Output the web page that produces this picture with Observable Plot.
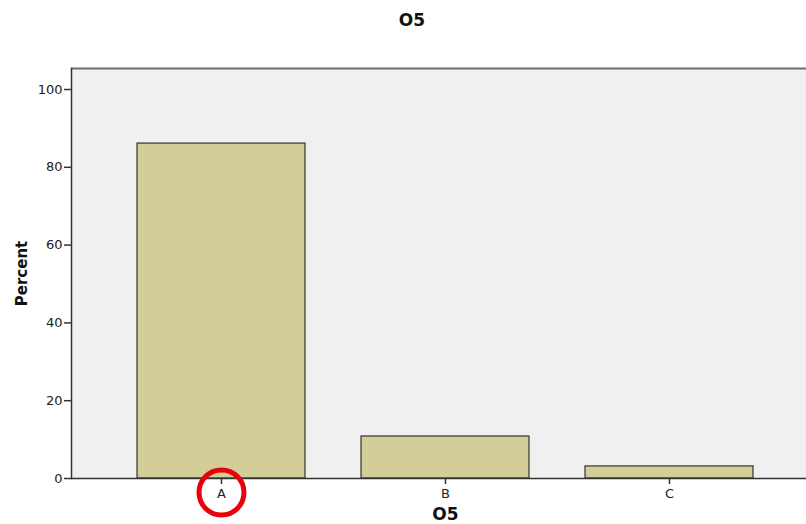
<!DOCTYPE html>
<html><head><meta charset="utf-8">
<script src="https://cdn.jsdelivr.net/npm/d3@7"></script>
<script src="https://cdn.jsdelivr.net/npm/@observablehq/plot@0.6"></script>
<style>body{margin:0;background:#fff;font-family:"DejaVu Sans",sans-serif}</style>
</head><body><div id="chart"></div>
<script>
const categories = ["A", "B", "C"];
const percents = [86.1, 10.8, 3.1];
const yTicks = [0, 20, 40, 60, 80, 100];
const highlighted = ["A"];
const titleText = "O5";
const xLabel = "O5";
const yLabel = "Percent";

const data = categories.map((c, i) => ({cat: c, pct: percents[i]}));

const chart = Plot.plot({
  width: 806, height: 524,
  marginTop: 68, marginBottom: 46, marginLeft: 71, marginRight: 0,
  style: {fontFamily: "'DejaVu Sans', sans-serif", fontSize: "13px", color: "#222", background: "#fff"},
  x: {domain: categories, range: [109, 781], paddingInner: 0.25, paddingOuter: 0.125, axis: null},
  y: {domain: [0, 105.4], axis: null},
  marks: [
    Plot.frame({fill: "#f0f0f0", stroke: null}),
    Plot.ruleY([105.4], {stroke: "#6e6e6e", strokeWidth: 2}),
    Plot.barY(data, {x: "cat", y: "pct", fill: "#d3ce98", stroke: "#333", strokeWidth: 1.2}),
    Plot.frame({anchor: "left", stroke: "#333", strokeWidth: 1.5}),
    Plot.ruleY([0], {stroke: "#333", strokeWidth: 1.5}),
    Plot.axisY(yTicks, {ticks: yTicks, tickSize: 7, tickPadding: 2, stroke: "#333", strokeWidth: 1.5, fontSize: 13, fill: "#222", label: null}),
    Plot.axisX(categories, {tickSize: 6, tickPadding: 4, stroke: "#333", strokeWidth: 1.5, fontSize: 13, fill: "#222", label: null}),
    Plot.text([yLabel], {frameAnchor: "left", dx: -49, rotate: -90, textAnchor: "middle", text: d => d, fontWeight: "bold", fontSize: 15, fill: "#111"}),
    Plot.text([xLabel], {x: () => "B", frameAnchor: "bottom", dy: 41, text: d => d, fontWeight: "bold", fontSize: 17, fill: "#111"}),
    Plot.text([titleText], {frameAnchor: "top", dx: -27, dy: -55, text: d => d, fontWeight: "bold", fontSize: 17, fill: "#111"}),
    Plot.dot(highlighted, {x: d => d, frameAnchor: "bottom", dy: 14, r: 22.5, stroke: "#e8000b", strokeWidth: 5, fill: "none"})
  ]
});
document.getElementById("chart").appendChild(chart);
</script>
</body></html>
